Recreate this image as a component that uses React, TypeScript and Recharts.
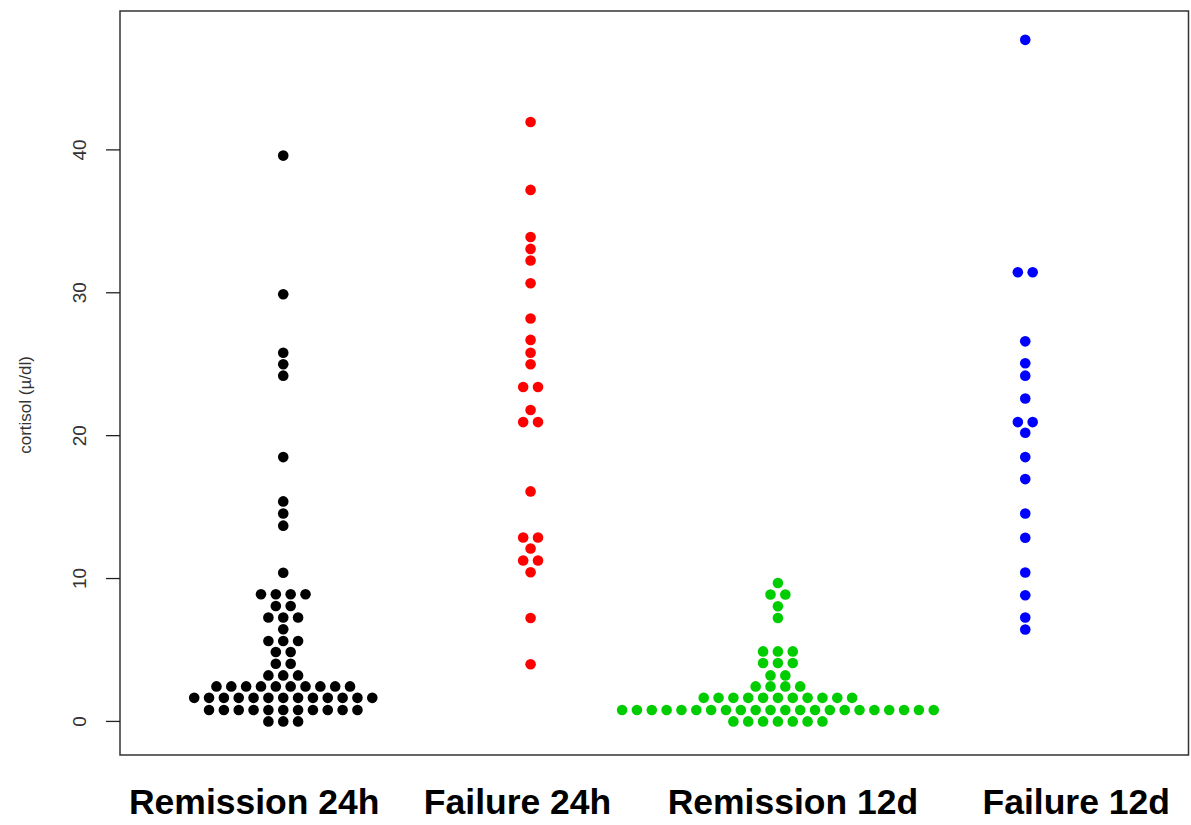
import React from 'react';
import { ScatterChart, Scatter, XAxis, YAxis, ReferenceArea } from 'recharts';

// each row: [cortisol value, number of dots sharing that value]
const remission24h: [number, number][] = [
  [39.6, 1], [29.9, 1], [25.8, 1], [25.0, 1], [24.2, 1], [18.5, 1],
  [15.4, 1], [14.55, 1], [13.7, 1], [10.4, 1], [8.9, 4], [8.08, 2],
  [7.27, 3], [6.45, 1], [5.63, 3], [4.86, 2], [4.04, 2], [3.22, 3],
  [2.45, 10], [1.65, 13], [0.8, 11], [0, 3],
];

const failure24h: [number, number][] = [
  [41.95, 1], [37.2, 1], [33.9, 1], [33.07, 1], [32.26, 1], [30.67, 1],
  [28.2, 1], [26.7, 1], [25.8, 1], [25.0, 1], [23.4, 2], [21.8, 1],
  [20.95, 2], [16.1, 1], [12.87, 2], [12.1, 1], [11.26, 2], [10.44, 1],
  [7.24, 1], [4.0, 1],
];

const remission12d: [number, number][] = [
  [9.69, 1], [8.88, 2], [8.06, 1], [7.24, 1], [4.9, 3], [4.09, 3],
  [3.22, 2], [2.45, 4], [1.65, 11], [0.8, 22], [0, 7],
];

const failure12d: [number, number][] = [
  [47.7, 1], [31.44, 2], [26.6, 1], [25.07, 1], [24.2, 1], [22.6, 1],
  [20.95, 2], [20.2, 1], [18.5, 1], [16.96, 1], [14.55, 1], [12.85, 1],
  [10.42, 1], [8.83, 1], [7.27, 1], [6.43, 1],
];

const categories = ['Remission 24h', 'Failure 24h', 'Remission 12d', 'Failure 12d'];
const colors = ['#000000', '#FF0000', '#00CD00', '#0000FF'];
const yTicks = [0, 10, 20, 30, 40];

// the group names in the original sit a little off their columns
const labelShift = [-29, -13, 15, 51];

const X_DOMAIN: [number, number] = [0.34, 4.66];
const Y_DOMAIN: [number, number] = [-2.35, 49.72];
const STEP = 0.06; // horizontal distance between neighbouring dots, in category units

// lay each row out side by side, centred on its category
function swarm(rows: [number, number][], group: number) {
  const pts: { x: number; y: number }[] = [];
  rows.forEach(([value, n]) => {
    for (let k = 0; k < n; k++) {
      pts.push({ x: group + (k - (n - 1) / 2) * STEP, y: value });
    }
  });
  return pts;
}

const groups = [remission24h, failure24h, remission12d, failure12d].map((rows, i) => swarm(rows, i + 1));

const Dot = (color: string) => (props: any) => (
  <circle cx={props.cx} cy={props.cy} r={5.3} fill={color} />
);

const XTick = ({ x, payload }: any) => (
  <text x={x + labelShift[payload.value - 1]} y={814} textAnchor="middle" fontSize={35.5} fontWeight="bold"
    fill="#000" fontFamily="'Liberation Sans', Arial, sans-serif">
    {categories[payload.value - 1]}
  </text>
);

const YTick = ({ y, payload }: any) => (
  <text x={86} y={y} transform={`rotate(-90, 86, ${y})`} textAnchor="middle" fontSize={19} fill="#333"
    fontFamily="'Liberation Sans', Arial, sans-serif">
    {payload.value}
  </text>
);

const YTitle = () => (
  <text x={31} y={405} transform="rotate(-90, 31, 405)" textAnchor="middle" fontSize={17} fill="#333"
    fontFamily="'Liberation Sans', Arial, sans-serif">
    cortisol (µ/dl)
  </text>
);

export default function App() {
  return (
    <div style={{ position: 'absolute', left: 0, top: 0, background: '#fff' }}>
      <ScatterChart width={1191} height={825} margin={{ top: 11, right: 2.5, left: 0, bottom: 0 }}>
        <XAxis type="number" dataKey="x" domain={X_DOMAIN} ticks={[1, 2, 3, 4]} allowDataOverflow
          axisLine={false} tickLine={false} height={70} tick={<XTick />} interval={0} />
        <YAxis type="number" dataKey="y" domain={Y_DOMAIN} ticks={yTicks} allowDataOverflow
          axisLine={false} width={120} tickSize={14} tickLine={{ stroke: '#222', strokeWidth: 1.3 }}
          tick={<YTick />} interval={0} label={<YTitle />} />
        <ReferenceArea x1={X_DOMAIN[0]} x2={X_DOMAIN[1]} y1={Y_DOMAIN[0]} y2={Y_DOMAIN[1]}
          fill="none" fillOpacity={0} stroke="#333" strokeWidth={1.5} ifOverflow="visible" />
        {groups.map((pts, i) => (
          <Scatter key={categories[i]} data={pts} fill={colors[i]} shape={Dot(colors[i])} isAnimationActive={false} />
        ))}
      </ScatterChart>
    </div>
  );
}
